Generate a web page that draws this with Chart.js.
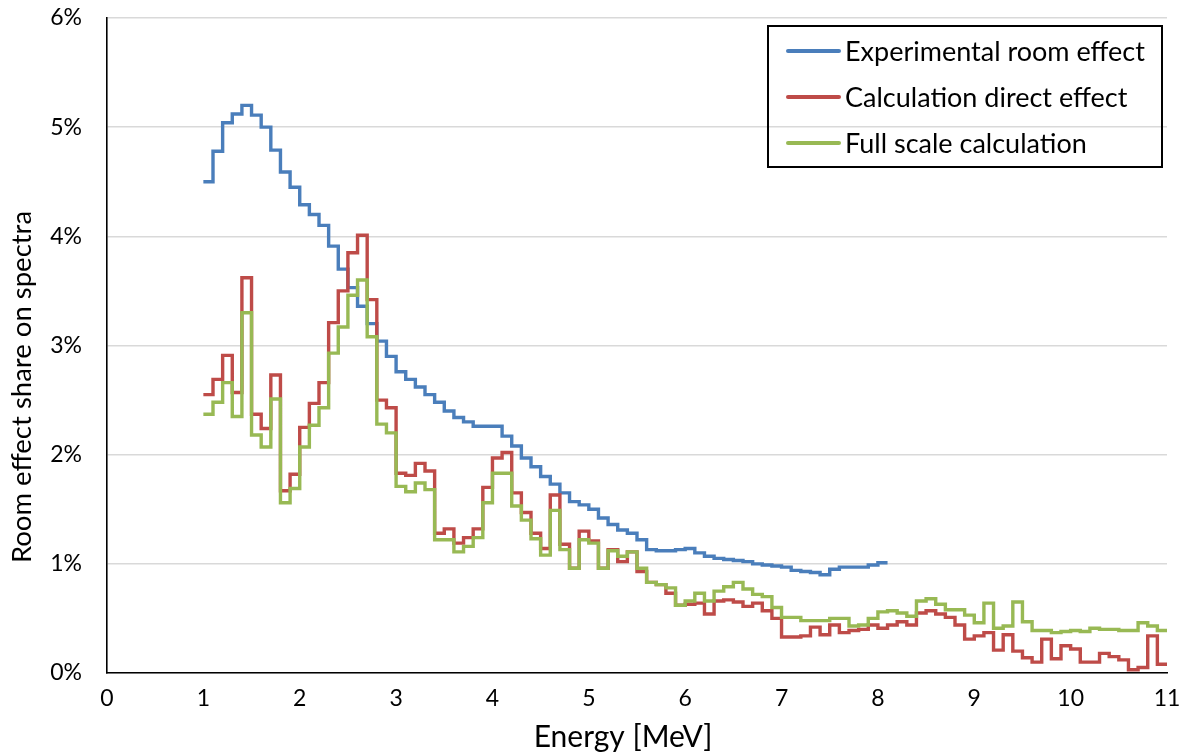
<!DOCTYPE html>
<html>
<head>
<meta charset="utf-8">
<title>Room effect share on spectra</title>
<script src="https://cdn.jsdelivr.net/npm/chart.js@4/dist/chart.umd.min.js"></script>
<style>
  body { margin: 0; background: #fff; }
  #wrap { position: relative; width: 1188px; height: 752px; }
  #legend {
    position: absolute;
    left: 767px;
    top: 25px;
    width: 392px;
    height: 139px;
    border: 2px solid #000;
    font-family: Lato, "Liberation Sans", sans-serif;
    font-size: 27px;
    color: #000;
  }
  #legend .row { position: absolute; left: 0; height: 46px; line-height: 46px; white-space: nowrap; }
  #legend .swatch { position: absolute; left: 17px; top: 21px; width: 55px; height: 4px; border-radius: 2px; }
  #legend .label { position: absolute; left: 76px; top: 0; }
</style>
</head>
<body>
<div id="wrap">
  <canvas id="chart" width="1188" height="752"></canvas>
  <div id="legend"></div>
</div>
<script>
const FONT = 'Lato, "Liberation Sans", sans-serif';

const seriesNames = ["Experimental room effect", "Calculation direct effect", "Full scale calculation"];
const seriesColors = ["#4A7EBB", "#BE4B48", "#98B954"];
const xTitle = "Energy [MeV]";
const yTitle = "Room effect share on spectra";

// lower edge of every 0.1 MeV bin, 1.0 .. 10.9
const binStarts = [
  1.0, 1.1, 1.2, 1.3, 1.4, 1.5, 1.6, 1.7, 1.8, 1.9,
  2.0, 2.1, 2.2, 2.3, 2.4, 2.5, 2.6, 2.7, 2.8, 2.9,
  3.0, 3.1, 3.2, 3.3, 3.4, 3.5, 3.6, 3.7, 3.8, 3.9,
  4.0, 4.1, 4.2, 4.3, 4.4, 4.5, 4.6, 4.7, 4.8, 4.9,
  5.0, 5.1, 5.2, 5.3, 5.4, 5.5, 5.6, 5.7, 5.8, 5.9,
  6.0, 6.1, 6.2, 6.3, 6.4, 6.5, 6.6, 6.7, 6.8, 6.9,
  7.0, 7.1, 7.2, 7.3, 7.4, 7.5, 7.6, 7.7, 7.8, 7.9,
  8.0, 8.1, 8.2, 8.3, 8.4, 8.5, 8.6, 8.7, 8.8, 8.9,
  9.0, 9.1, 9.2, 9.3, 9.4, 9.5, 9.6, 9.7, 9.8, 9.9,
  10.0, 10.1, 10.2, 10.3, 10.4, 10.5, 10.6, 10.7, 10.8, 10.9
];
const binWidth = 0.1;

// values in %
const experimental = [
  4.50, 4.78, 5.04, 5.12, 5.20, 5.11, 5.00, 4.79, 4.59, 4.45,
  4.29, 4.20, 4.10, 3.91, 3.70, 3.53, 3.36, 3.20, 3.04, 2.90,
  2.76, 2.69, 2.62, 2.55, 2.48, 2.40, 2.34, 2.30, 2.26, 2.26,
  2.26, 2.17, 2.08, 1.97, 1.89, 1.80, 1.73, 1.65, 1.57, 1.54,
  1.50, 1.42, 1.36, 1.31, 1.28, 1.22, 1.13, 1.12, 1.12, 1.13,
  1.14, 1.10, 1.07, 1.05, 1.04, 1.03, 1.02, 1.00, 0.99, 0.98,
  0.97, 0.94, 0.93, 0.92, 0.90, 0.95, 0.97, 0.97, 0.97, 0.99,
  1.01
];

const directEffect = [
  2.55, 2.69, 2.91, 2.57, 3.62, 2.37, 2.24, 2.73, 1.67, 1.82,
  2.25, 2.47, 2.66, 3.21, 3.50, 3.85, 4.01, 3.42, 2.50, 2.43,
  1.83, 1.81, 1.92, 1.85, 1.28, 1.32, 1.19, 1.24, 1.32, 1.70,
  1.97, 2.02, 1.65, 1.47, 1.28, 1.14, 1.63, 1.18, 0.96, 1.30,
  1.21, 0.96, 1.13, 1.02, 1.11, 0.93, 0.83, 0.81, 0.73, 0.62,
  0.63, 0.64, 0.54, 0.66, 0.67, 0.65, 0.61, 0.64, 0.57, 0.50,
  0.33, 0.33, 0.34, 0.42, 0.35, 0.44, 0.37, 0.39, 0.40, 0.44,
  0.41, 0.44, 0.47, 0.44, 0.55, 0.57, 0.54, 0.51, 0.44, 0.31,
  0.34, 0.37, 0.21, 0.35, 0.20, 0.14, 0.10, 0.31, 0.13, 0.25,
  0.22, 0.10, 0.10, 0.18, 0.15, 0.12, 0.03, 0.05, 0.34, 0.08
];

const fullScale = [
  2.37, 2.48, 2.66, 2.35, 3.30, 2.18, 2.07, 2.51, 1.56, 1.69,
  2.07, 2.27, 2.43, 2.93, 3.17, 3.46, 3.60, 3.08, 2.28, 2.20,
  1.71, 1.66, 1.74, 1.68, 1.22, 1.22, 1.11, 1.16, 1.24, 1.56,
  1.83, 1.83, 1.53, 1.40, 1.23, 1.08, 1.49, 1.13, 0.96, 1.22,
  1.19, 0.96, 1.12, 1.07, 1.11, 0.96, 0.83, 0.81, 0.78, 0.62,
  0.66, 0.73, 0.66, 0.75, 0.79, 0.83, 0.77, 0.72, 0.70, 0.60,
  0.51, 0.51, 0.48, 0.48, 0.48, 0.50, 0.50, 0.43, 0.44, 0.50,
  0.56, 0.57, 0.55, 0.52, 0.66, 0.68, 0.63, 0.58, 0.58, 0.53,
  0.46, 0.64, 0.41, 0.43, 0.65, 0.47, 0.39, 0.39, 0.37, 0.38,
  0.39, 0.38, 0.41, 0.40, 0.40, 0.39, 0.39, 0.46, 0.43, 0.39
];

const xTicks = [0, 1, 2, 3, 4, 5, 6, 7, 8, 9, 10, 11];
const yTicks = [0, 1, 2, 3, 4, 5, 6];

// one point per bin start plus a closing point at the last bin end
function toSteps(values) {
  const pts = values.map((v, i) => ({ x: binStarts[i], y: v }));
  const last = values.length - 1;
  pts.push({ x: binStarts[last] + binWidth, y: values[last] });
  return pts;
}

function makeDataset(i, values, order) {
  return {
    label: seriesNames[i],
    data: toSteps(values),
    borderColor: seriesColors[i],
    backgroundColor: seriesColors[i],
    borderWidth: 3.4,
    stepped: "before",
    pointRadius: 0,
    fill: false,
    order: order
  };
}

// axis titles drawn by hand so they can sit where the original has them
const axisTitles = {
  id: "axisTitles",
  afterDraw(chart, args, opts) {
    const ctx = chart.ctx;
    ctx.save();
    ctx.fillStyle = "#000";
    ctx.textAlign = "center";
    ctx.textBaseline = "middle";

    ctx.font = opts.xSize + "px " + FONT;
    ctx.fillText(xTitle, opts.xAt[0], opts.xAt[1]);

    ctx.translate(opts.yAt[0], opts.yAt[1]);
    ctx.rotate(-Math.PI / 2);
    ctx.font = opts.ySize + "px " + FONT;
    ctx.fillText(yTitle, 0, 0);
    ctx.restore();
  }
};

const chart = new Chart(document.getElementById("chart"), {
  type: "line",
  data: {
    datasets: [
      makeDataset(0, experimental, 2),
      makeDataset(1, directEffect, 1),
      makeDataset(2, fullScale, 0)
    ]
  },
  plugins: [axisTitles],
  options: {
    responsive: false,
    animation: false,
    layout: { padding: { left: 0, right: 21, top: 18, bottom: 0 } },
    plugins: {
      legend: { display: false },
      tooltip: { enabled: false },
      axisTitles: { xSize: 30, xAt: [623, 737], ySize: 27.5, yAt: [22, 387] }
    },
    scales: {
      x: {
        type: "linear",
        min: 0,
        max: 11,
        afterBuildTicks: s => { s.ticks = xTicks.map(v => ({ value: v })); },
        afterFit: s => { s.height = 79; },
        grid: { display: false, drawTicks: true, tickLength: 10 },
        border: { display: true, color: "#000", width: 1.6 },
        ticks: { color: "#000", font: { family: FONT, size: 23 }, padding: 2 }
      },
      y: {
        min: 0,
        max: 6,
        afterBuildTicks: s => { s.ticks = yTicks.map(v => ({ value: v })); },
        afterFit: s => { s.width = 107; },
        grid: { color: "#D9D9D9", lineWidth: 1.5, drawTicks: true, tickLength: 21, tickColor: "rgba(0,0,0,0)" },
        border: { display: true, color: "#000", width: 1.6 },
        ticks: {
          color: "#000",
          font: { family: FONT, size: 23 },
          padding: 4,
          callback: v => v + "%"
        }
      }
    }
  }
});

function renderLegend() {
  const box = document.getElementById("legend");
  box.innerHTML = "";
  chart.data.datasets.forEach((ds, i) => {
    const row = document.createElement("div");
    row.className = "row";
    row.style.top = (1 + i * 46) + "px";
    row.innerHTML = `<span class="swatch" style="background:${ds.borderColor}"></span><span class="label">${ds.label}</span>`;
    box.appendChild(row);
  });
}

renderLegend();
</script>
</body>
</html>
